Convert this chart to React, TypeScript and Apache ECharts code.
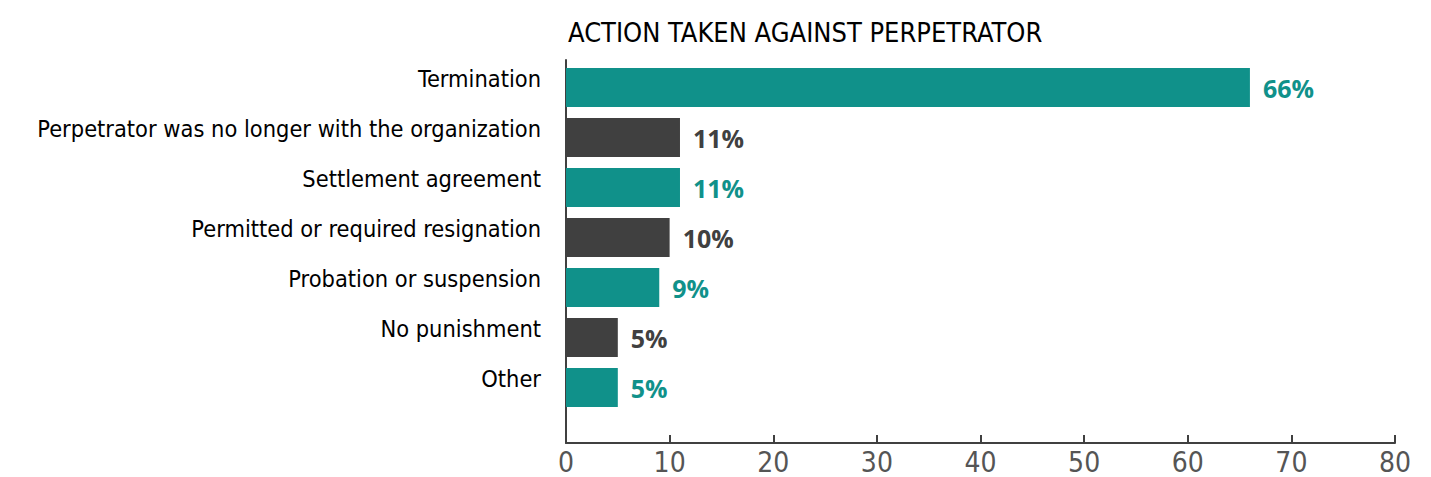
import React, { useEffect, useRef } from "react";
import * as echarts from "echarts";

const title = "ACTION TAKEN AGAINST PERPETRATOR";
const categories = [
  "Termination",
  "Perpetrator was no longer with the organization",
  "Settlement agreement",
  "Permitted or required resignation",
  "Probation or suspension",
  "No punishment",
  "Other",
];
const values = [66, 11, 11, 10, 9, 5, 5];
const xMin = 0;
const xMax = 80;
const xInterval = 10;

const TEAL = "#10918a";
const DARK = "#404040";
const FONT = "'DejaVu Sans Condensed', 'DejaVu Sans', sans-serif";

export default function App() {
  const ref = useRef<HTMLDivElement>(null);
  useEffect(() => {
    if (!ref.current) return;
    const chart = echarts.init(ref.current, undefined, { renderer: "svg" });
    const colors = values.map((_, i) => (i % 2 === 0 ? TEAL : DARK));
    chart.setOption({
      animation: false,
      title: {
        text: title,
        left: 563,
        top: 14,
        textStyle: {
          fontFamily: FONT,
          fontSize: 27,
          fontWeight: "normal",
          color: "#000",
        },
      },
      grid: [
        { left: 566, width: 829, top: 62.5, height: 350, outerBoundsMode: "none" },
        { left: 566, width: 829, top: 60, height: 383, outerBoundsMode: "none" },
      ],
      xAxis: [
        {
          gridIndex: 0,
          type: "value",
          min: xMin,
          max: xMax,
          interval: xInterval,
          show: false,
        },
        {
          gridIndex: 1,
          type: "value",
          min: xMin,
          max: xMax,
          interval: xInterval,
          axisLine: { show: true, lineStyle: { color: DARK, width: 2 } },
          axisTick: { show: true, inside: true, length: 8, lineStyle: { color: DARK, width: 2 } },
          axisLabel: {
            fontFamily: FONT,
            fontSize: 28,
            color: "#555",
            margin: 5,
          },
          splitLine: { show: false },
        },
      ],
      yAxis: [
        {
          gridIndex: 0,
          type: "category",
          data: categories,
          inverse: true,
          axisLine: { show: false },
          axisTick: { show: false },
          axisLabel: {
            fontFamily: FONT,
            fontSize: 23.4,
            color: "#000",
            margin: 25,
            verticalAlign: "bottom",
            lineHeight: 18,
          },
        },
        {
          gridIndex: 1,
          type: "value",
          min: 0,
          max: 1,
          axisLine: { show: true, lineStyle: { color: DARK, width: 2 } },
          axisTick: { show: false },
          axisLabel: { show: false },
          splitLine: { show: false },
        },
      ],
      series: [
        {
          type: "bar",
          xAxisIndex: 0,
          yAxisIndex: 0,
          barWidth: 39,
          data: values.map((v, i) => ({
            value: v,
            itemStyle: { color: colors[i] },
            label: { color: colors[i] },
          })),
          label: {
            show: true,
            position: "right",
            distance: 13,
            formatter: "{c}%",
            fontFamily: "Open Sans",
            fontWeight: "bold",
            fontSize: 25,
          },
        },
      ],
    });
    return () => chart.dispose();
  }, []);
  return (
    <div
      ref={ref}
      style={{ position: "absolute", left: 0, top: 0, width: 1431, height: 477 }}
    />
  );
}
